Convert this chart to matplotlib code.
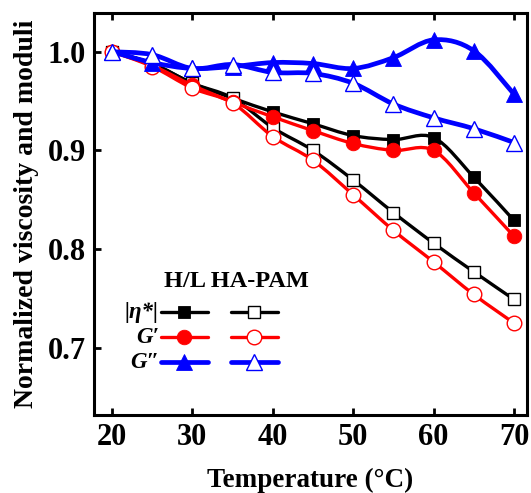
import numpy as np
import matplotlib
matplotlib.use("Agg")
import matplotlib.pyplot as plt
from matplotlib.path import Path
from matplotlib.patches import PathPatch
from matplotlib.lines import Line2D

plt.rcParams['font.family'] = ['Liberation Serif', 'DejaVu Serif']
plt.rcParams['font.weight'] = 'bold'

# Temperature sweep (°C)
temperature = [20, 25, 30, 35, 40, 45, 50, 55, 60, 65, 70]

# H HA-PAM (filled symbols), normalized to 20 °C
eta_H = [1.000, 0.988, 0.968, 0.953, 0.939, 0.927, 0.915, 0.911, 0.913, 0.873, 0.829]
g1_H = [1.000, 0.986, 0.966, 0.949, 0.934, 0.920, 0.907, 0.900, 0.900, 0.857, 0.813]
g2_H = [1.000, 0.989, 0.983, 0.985, 0.989, 0.988, 0.983, 0.994, 1.012, 1.001, 0.957]

# L HA-PAM (open symbols), normalized to 20 °C
eta_L = [1.000, 0.988, 0.968, 0.953, 0.923, 0.900, 0.870, 0.837, 0.806, 0.777, 0.749]
g1_L = [1.000, 0.985, 0.963, 0.948, 0.914, 0.890, 0.855, 0.819, 0.787, 0.754, 0.725]
g2_L = [1.000, 0.997, 0.983, 0.987, 0.979, 0.978, 0.968, 0.947, 0.933, 0.922, 0.908]

x_ticks = [20, 30, 40, 50, 60, 70]
y_ticks = [0.7, 0.8, 0.9, 1.0]
row_labels = ['|η*|', 'G′', 'G″']
legend_title = 'H/L HA-PAM'

BLACK = '#000000'
RED = '#ff0000'
BLUE = '#0000ff'


def smooth_path(xs, ys):
    """Catmull-Rom spline through the points, as cubic Bezier segments."""
    xs = np.asarray(xs, float)
    ys = np.asarray(ys, float)
    pts = np.column_stack([xs, ys])
    n = len(pts)
    verts = [pts[0]]
    codes = [Path.MOVETO]
    for i in range(n - 1):
        p0 = pts[i - 1] if i > 0 else pts[i]
        p1 = pts[i]
        p2 = pts[i + 1]
        p3 = pts[i + 2] if i + 2 < n else pts[i + 1]
        c1 = p1 + (p2 - p0) / 6.0
        c2 = p2 - (p3 - p1) / 6.0
        verts += [c1, c2, p2]
        codes += [Path.CURVE4] * 3
    return Path(verts, codes)


fig = plt.figure(figsize=(5.31, 4.93), dpi=100)
ax = fig.add_axes([0.177, 0.158, 0.8155, 0.8156])

series = [
    (eta_H, BLACK, 's', True, 2.4, 9.0),
    (eta_L, BLACK, 's', False, 2.4, 9.0),
    (g1_H, RED, 'o', True, 2.4, 10.5),
    (g1_L, RED, 'o', False, 2.4, 10.5),
    (g2_H, BLUE, '^', True, 3.4, 11.0),
    (g2_L, BLUE, '^', False, 3.4, 11.0),
]

z = 2
for ys, color, marker, filled, lw, ms in series:
    patch = PathPatch(smooth_path(temperature, ys), facecolor='none',
                      edgecolor=color, lw=lw, zorder=z, capstyle='round',
                      joinstyle='round')
    ax.add_patch(patch)
    ax.plot(temperature, ys, linestyle='none', marker=marker, ms=ms,
            markerfacecolor=color if filled else 'white',
            markeredgecolor=color, markeredgewidth=0.6 if filled else 1.0,
            zorder=z + 0.5)
    z += 1

ax.set_xlim(17.76, 71.62)
ax.set_ylim(0.6318, 1.0392)
ax.set_xticks(x_ticks)
ax.set_yticks(y_ticks)
ax.set_yticklabels([f'{v:.1f}' for v in y_ticks])

for s in ax.spines.values():
    s.set_linewidth(2.2)

ax.tick_params(axis='both', direction='in', length=5, width=2.0,
               labelsize=22, pad=6)
ax.tick_params(axis='x', top=True, bottom=True)
ax.tick_params(axis='y', left=True, right=False)
for lab in ax.get_xticklabels() + ax.get_yticklabels():
    lab.set_fontweight('bold')

ax.set_xlabel('Temperature (°C)', fontsize=19.5, fontweight='bold',
              labelpad=11)
ax.set_ylabel('Normalized viscosity and moduli', fontsize=20,
              fontweight='bold', labelpad=6)

# Hand-built legend: one labelled row per quantity, H and L columns
ax.text(0.330, 0.333, legend_title, transform=ax.transAxes, fontsize=17.5,
        fontweight='bold', ha='center', va='center')
rows_y = [0.256, 0.194, 0.132]
row_styles = [(BLACK, 's', 2.4, 9.0), (RED, 'o', 2.4, 10.5),
              (BLUE, '^', 3.4, 11.0)]
for label, yrow, (color, marker, lw, ms) in zip(row_labels, rows_y, row_styles):
    ax.text(0.150, yrow, label, transform=ax.transAxes, fontsize=16.5,
            fontweight='bold', fontstyle='italic', ha='right', va='center')
    for (x0, x1), filled in [((0.155, 0.263), True), ((0.316, 0.425), False)]:
        ax.add_line(Line2D([x0, x1], [yrow, yrow], transform=ax.transAxes,
                           color=color, lw=lw, solid_capstyle='round'))
        ax.add_line(Line2D([(x0 + x1) / 2], [yrow], transform=ax.transAxes,
                           linestyle='none', marker=marker, ms=ms,
                           markerfacecolor=color if filled else 'white',
                           markeredgecolor=color,
                           markeredgewidth=0.6 if filled else 1.0))

fig.savefig('out.png', dpi=100)
